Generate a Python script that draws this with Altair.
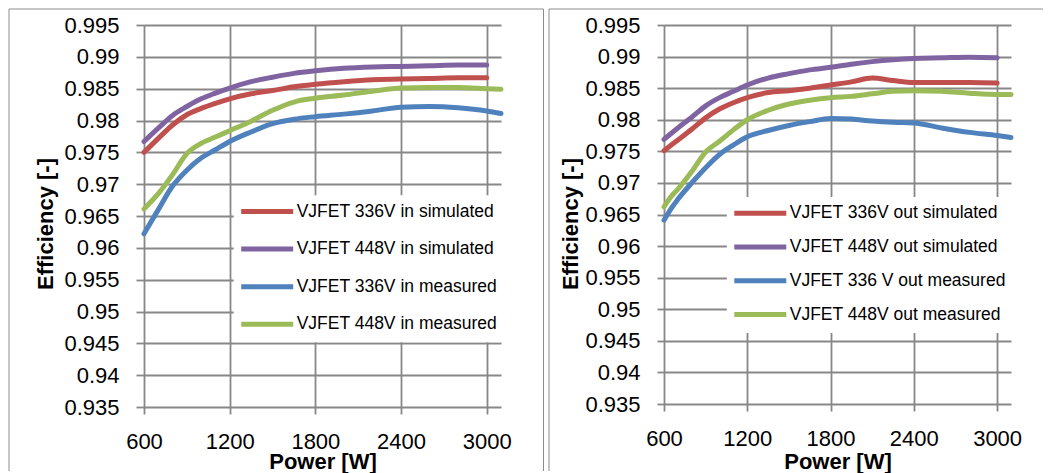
import altair as alt
import pandas as pd

FONT = "Liberation Sans"
GRID = "#878787"
BORDER = "#8c8c8c"
COLORS = ["#C0504D", "#8064A2", "#4F81BD", "#9BBB59"]

X_TICKS = [600, 1200, 1800, 2400, 3000]
Y_TICKS = [0.935, 0.94, 0.945, 0.95, 0.955, 0.96, 0.965, 0.97, 0.975, 0.98, 0.985, 0.99, 0.995]

# ---- left panel: input side ----
LEFT_LABELS = ["VJFET 336V in simulated", "VJFET 448V in simulated",
               "VJFET 336V in measured", "VJFET 448V in measured"]
L_SIM_P = [600, 700, 800, 900, 1000, 1100, 1200, 1350, 1500, 1650, 1800, 2000, 2200, 2400, 2600, 2800, 3000]
L_336_SIM = [0.9750, 0.9772, 0.9793, 0.9809, 0.9819, 0.9827, 0.9834, 0.9842, 0.9847, 0.9853, 0.9857,
             0.9861, 0.9864, 0.9865, 0.9866, 0.9867, 0.9867]
L_448_SIM = [0.9767, 0.9788, 0.9808, 0.9822, 0.9834, 0.9843, 0.9851, 0.9861, 0.9868, 0.9874, 0.9878,
             0.9882, 0.9884, 0.9885, 0.9886, 0.9887, 0.9887]
L_MEAS_P = [600, 700, 800, 900, 1000, 1100, 1200, 1350, 1500, 1650, 1800, 2000, 2200, 2400, 2600, 2800, 3000, 3100]
L_336_MEAS = [0.9622, 0.9660, 0.9697, 0.9722, 0.9741, 0.9754, 0.9767, 0.9782, 0.9795, 0.9802, 0.9806,
              0.9810, 0.9815, 0.9821, 0.9822, 0.9820, 0.9815, 0.9811]
L_448_MEAS = [0.9661, 0.9685, 0.9715, 0.9748, 0.9764, 0.9774, 0.9784, 0.9799, 0.9816, 0.9829, 0.9835,
              0.9840, 0.9846, 0.9851, 0.9852, 0.9852, 0.9850, 0.9849]

# ---- right panel: output side ----
RIGHT_LABELS = ["VJFET 336V out simulated", "VJFET 448V out simulated",
                "VJFET 336 V out measured", "VJFET 448V out measured"]
R_SIM_P = [600, 700, 800, 900, 1000, 1100, 1200, 1350, 1500, 1650, 1800, 1950, 2100, 2250, 2400, 2600, 2800, 3000]
R_336_SIM = [0.9751, 0.9768, 0.9785, 0.9803, 0.9817, 0.9827, 0.9835, 0.9843, 0.9846, 0.9850, 0.9855,
             0.9860, 0.9866, 0.9862, 0.9859, 0.9859, 0.9859, 0.9858]
R_448_SIM = [0.9769, 0.9787, 0.9804, 0.9822, 0.9835, 0.9845, 0.9855, 0.9866, 0.9873, 0.9879, 0.9883,
             0.9888, 0.9892, 0.9895, 0.9897, 0.9898, 0.9899, 0.9898]
R_MEAS_P = [600, 650, 700, 800, 900, 1000, 1100, 1200, 1350, 1500, 1650, 1800, 1950, 2100, 2250, 2400,
            2600, 2800, 3000, 3100]
R_336_MEAS = [0.9641, 0.9659, 0.9674, 0.9700, 0.9724, 0.9745, 0.9760, 0.9773, 0.9783, 0.9791, 0.9797,
              0.9802, 0.9801, 0.9798, 0.9796, 0.9795, 0.9787, 0.9780, 0.9775, 0.9772]
R_448_MEAS = [0.9662, 0.9678, 0.9690, 0.9718, 0.9749, 0.9766, 0.9784, 0.9800, 0.9815, 0.9825, 0.9831,
              0.9835, 0.9837, 0.9841, 0.9845, 0.9846, 0.9845, 0.9842, 0.9840, 0.9840]


def make_df(labels, series):
    rows = []
    for lab, (px, ys) in zip(labels, series):
        for p, e in zip(px, ys):
            rows.append({"Power": p, "Efficiency": e, "Series": lab})
    return pd.DataFrame(rows)


def border(**enc):
    return alt.Chart(alt.Data(values=[{}])).mark_rule(color=BORDER, strokeWidth=1).encode(**enc)


def panel(df, labels, width, height, ytick, ytitle_x, legend_x, legend_y, row_pad):
    lines = alt.Chart(df).mark_line(
        strokeWidth=5, strokeCap="round", strokeJoin="round", interpolate="monotone"
    ).encode(
        x=alt.X("Power:Q",
                scale=alt.Scale(domain=[600, 3100], nice=False, zero=False),
                axis=alt.Axis(values=X_TICKS, format="d", title="Power [W]",
                              grid=True, gridColor=GRID, gridWidth=1.8,
                              domain=False, ticks=True, tickColor=GRID, tickWidth=1.8, tickSize=7,
                              labelFont=FONT, labelFontSize=22, labelColor="black",
                              labelPadding=17, labelFlush=False, labelOverlap=False,
                              titleFont=FONT, titleFontSize=22, titleFontWeight="bold",
                              titleColor="black", titleBaseline="alphabetic", titleAlign="center",
                              titleX=width / 2, titleY=443.5 - height)),
        y=alt.Y("Efficiency:Q",
                scale=alt.Scale(domain=[0.935, 0.995], nice=False, zero=False),
                axis=alt.Axis(values=Y_TICKS, format=".3~f", title="Efficiency [-]",
                              grid=True, gridColor=GRID, gridWidth=1.8,
                              domain=False, ticks=True, tickColor=GRID, tickWidth=1.8, tickSize=ytick,
                              labelFont=FONT, labelFontSize=22, labelColor="black",
                              labelPadding=17, labelFlush=False, labelOverlap=False,
                              titleFont=FONT, titleFontSize=22, titleFontWeight="bold",
                              titleColor="black", titleAngle=270, titleBaseline="bottom",
                              titleAlign="center", titleX=ytitle_x, titleY=198.5)),
        color=alt.Color("Series:N", sort=labels,
                        scale=alt.Scale(domain=labels, range=COLORS),
                        legend=alt.Legend(title=None, orient="none", direction="vertical",
                                          legendX=legend_x, legendY=legend_y,
                                          padding=7.5, rowPadding=row_pad, fillColor="white",
                                          symbolType="M-5.2,0H5.2", symbolSize=100,
                                          symbolOffset=17.25, symbolStrokeWidth=5,
                                          labelFont=FONT, labelFontSize=17.5, labelColor="black",
                                          labelLimit=400, labelOffset=20.7)),
    ).properties(width=width, height=height)
    return lines


left_df = make_df(LEFT_LABELS, [(L_SIM_P, L_336_SIM), (L_SIM_P, L_448_SIM),
                                (L_MEAS_P, L_336_MEAS), (L_MEAS_P, L_448_MEAS)])
right_df = make_df(RIGHT_LABELS, [(R_SIM_P, R_336_SIM), (R_SIM_P, R_448_SIM),
                                  (R_MEAS_P, R_336_MEAS), (R_MEAS_P, R_448_MEAS)])

left = alt.layer(
    border(x=alt.value(-135), y=alt.value(-16), y2=alt.value(446)),
    border(x=alt.value(-135), x2=alt.value(399.5), y=alt.value(-16)),
    border(x=alt.value(399.5), y=alt.value(-16), y2=alt.value(446)),
    panel(left_df, LEFT_LABELS, 357, 382, 8, -86.5, 89.7, 170.25, 16.6),
)

right = alt.layer(
    border(x=alt.value(-115), y=alt.value(-16), y2=alt.value(446)),
    border(x=alt.value(-115), x2=alt.value(379), y=alt.value(-16)),
    panel(right_df, RIGHT_LABELS, 347, 379, 7, -81.5, 62.8, 171.95, 12.8),
)

chart = alt.hconcat(left, right, spacing=4).resolve_scale(
    color="independent"
).resolve_legend(color="independent").properties(padding=0).configure_view(stroke=None)

chart.save("out.html", embed_options={"renderer": "svg", "actions": False})
